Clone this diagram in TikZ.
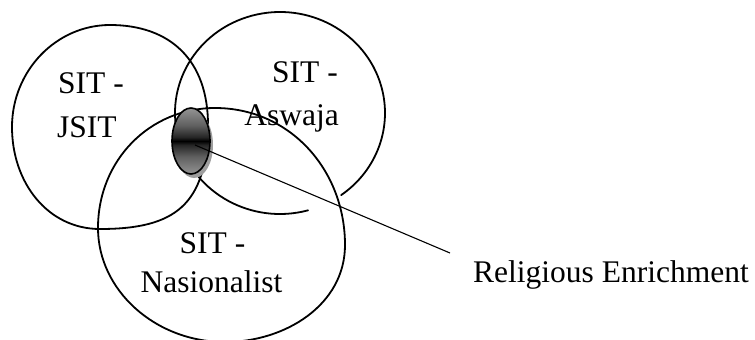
\documentclass[tikz,border=0pt]{standalone}
\usepackage{fontspec}
\setmainfont{Liberation Serif}
\usetikzlibrary{shapes.geometric,shadows}
\pgfdeclareverticalshading{enrichshade}{100bp}{%
  color(0bp)=(black!42); color(25bp)=(black!42); color(38bp)=(black!62);
  color(47bp)=(black!85); color(50bp)=(black); color(53bp)=(black!85);
  color(62bp)=(black!62); color(75bp)=(black!42); color(100bp)=(black!42)}
\begin{document}
\begin{tikzpicture}[x=1pt,y=-1pt,
  lbl/.style={inner sep=0pt, font=\fontsize{31.5}{38}\selectfont},
  shapeline/.style={line width=1.8pt, line join=round, line cap=round},
  pointer/.style={line width=1.1pt},
  enrich/.style={ellipse, draw=black, line width=1.6pt, minimum width=38pt,
    minimum height=66pt, inner sep=0pt, shading=enrichshade,
    drop shadow={shadow xshift=3pt, shadow yshift=-4pt, fill=black!38, opacity=1}}
]
\fill[white] (0,0) rectangle (755,340);
\useasboundingbox (0,0) rectangle (755,340);

% texts
\node[lbl, anchor=base west] (jsitA) at (58,93) {SIT -};
\node[lbl, anchor=base west] (jsitB) at (57,137) {JSIT};
\node[lbl, anchor=base east] (aswA) at (338,82) {SIT -};
\node[lbl, anchor=base east] (aswB) at (339,125) {Aswaja};
\node[lbl, anchor=base] (nasA) at (212.5,253) {SIT -};
\node[lbl, anchor=base] (nasB) at (211.5,292) {Nasionalist};
\node[lbl, anchor=base west] (rel) at (473,282) {Religious Enrichment};

% SIT - JSIT
\draw[shapeline] (12,127) .. controls (12,71) and (56,25) .. (110,25)
  .. controls (170,25) and (208,60) .. (208,125)
  .. controls (207,205) and (175,229) .. (100,229)
  .. controls (48,229) and (12,183) .. (12,127) -- cycle;

% SIT - Aswaja (open arc)
\draw[shapeline] (280,113) ++(74.5:105 and 101)
  arc[start angle=74.5, end angle=414.4, x radius=105, y radius=101];

% SIT - Nasionalist
\draw[shapeline] (215,108) .. controls (290,108) and (345,170) .. (345,245)
  .. controls (345,305) and (285,342) .. (225,342)
  .. controls (155,342) and (98,290) .. (98,228)
  .. controls (98,160) and (150,108) .. (215,108) -- cycle;

% religious enrichment spot
\node[enrich] (enr) at (191,141) {};
\coordinate (tip) at (450,253);
\draw[pointer] ([shift={(4,4)}]enr.center) -- (tip);
\end{tikzpicture}
\end{document}
